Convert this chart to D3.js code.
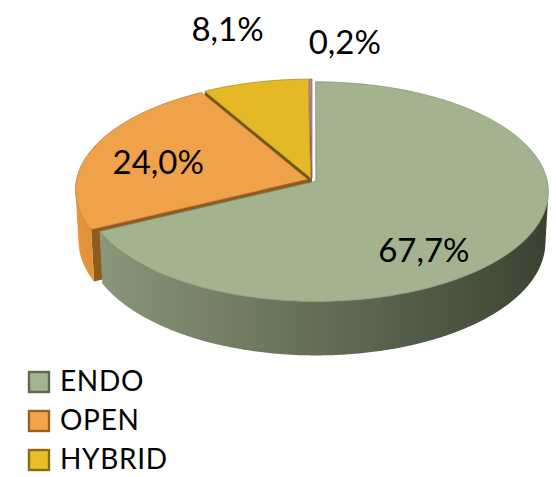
<!DOCTYPE html>
<html>
<head>
<meta charset="utf-8">
<script src="https://cdn.jsdelivr.net/npm/d3@7"></script>
<style>
  html, body { margin: 0; padding: 0; background: #ffffff; }
  svg { display: block; }
  text { font-family: Lato, "Open Sans", "DejaVu Sans", sans-serif; fill: #000; }
</style>
</head>
<body>
<svg id="chart" width="556" height="477"></svg>
<script>
// ---- data ----
const categories = ["ENDO", "OPEN", "HYBRID", "OTHER"];
const values = [67.7, 24.0, 8.1, 0.2];
const valueLabels = ["67,7%", "24,0%", "8,1%", "0,2%"];
const legendItems = ["ENDO", "OPEN", "HYBRID"];

// ---- colours ----
const topColors = ["#a3b38f", "#f0a24a", "#e5b926", "#b98a8f"];
const topEdge = ["#7f8f6c", "#b9722c", "#a7841a", "#8a5f64"];
const wallLight = ["#8f9c7f", "#e6963c", "#b2901c", "#9b6f74"];
const wallDark = ["#394030", "#8a5418", "#5f4e0e", "#5e4044"];
const radialWall = ["#7a866a", "#8e5c1e", "#6b5912", "#7a5458"];
const legendFill = ["#a4b391", "#f4a44c", "#e6be2c"];
const legendStroke = ["#5f6b4d", "#9a6020", "#8a6c10"];

// ---- 3D projection for a tilted disc seen in perspective ----
const sinE = 0.47, cosE = Math.sqrt(1 - sinE * sinE);
const D = 9.26, F = 2140;
const originX = 312, originY = 180;
const H = 0.25;          // disc thickness (radius = 1)
const explode = 0.02;    // radial offset of every slice

function camZ(X, Y, Z) { return -Y * sinE + Z * cosE + D; }
function project(X, Y, Z) {
  const yc = Y * cosE + Z * sinE;
  const zc = camZ(X, Y, Z);
  return [originX + F * X / zc, originY - F * yc / zc];
}
const camPos = [0, D * sinE, -D * cosE];
function faces(n, P) {
  return n[0] * (camPos[0] - P[0]) + n[1] * (camPos[1] - P[1]) + n[2] * (camPos[2] - P[2]) > 0;
}

const pie = d3.pie().sort(null).value(d => d).startAngle(0).endAngle(2 * Math.PI);
const arcs = pie(values);

const svg = d3.select("#chart");
const defs = svg.append("defs");
const line = d3.line();

// per-slice geometry in disc coordinates
const slices = arcs.map((a, i) => {
  const mid = (a.startAngle + a.endAngle) / 2;
  const ox = explode * Math.sin(mid), oz = explode * Math.cos(mid);
  const pt = (theta, r, Y) => [ox + r * Math.sin(theta), Y, oz + r * Math.cos(theta)];
  return { i, a, mid, ox, oz, pt };
});

// ---- side walls (sorted far to near) ----
const walls = [];
slices.forEach(s => {
  const { a, pt, i } = s;
  const span = a.endAngle - a.startAngle;
  const steps = Math.max(4, Math.ceil(span / (Math.PI / 360)));
  // visible part of the outer rim, as one band
  const vis = [];
  for (let k = 0; k <= steps; k++) {
    const t = a.startAngle + span * k / steps;
    if (faces([Math.sin(t), 0, Math.cos(t)], pt(t, 1, -H / 2))) vis.push(t);
  }
  if (vis.length > 1) {
    const topPts = vis.map(t => project(...pt(t, 1, 0)));
    const botPts = vis.map(t => project(...pt(t, 1, -H))).reverse();
    const tm = vis[Math.floor(vis.length / 2)];
    const gid = "wall-grad-" + i;
    const xs = topPts.map(p => p[0]);
    const x0 = d3.min(xs), x1 = d3.max(xs);
    const grad = defs.append("linearGradient").attr("id", gid)
      .attr("gradientUnits", "userSpaceOnUse")
      .attr("x1", x0).attr("x2", x1).attr("y1", 0).attr("y2", 0);
    const stops = vis.map((t, k) => ({
      off: x1 > x0 ? (topPts[k][0] - x0) / (x1 - x0) : 0,
      col: d3.interpolateRgb(wallLight[i], wallDark[i])((Math.sin(t) + 1) / 2)
    })).sort((p, q) => p.off - q.off);
    const every = Math.max(1, Math.floor(stops.length / 24));
    stops.filter((d, k) => k % every === 0 || k === stops.length - 1)
      .forEach(st => grad.append("stop").attr("offset", st.off).attr("stop-color", st.col));
    walls.push({
      d: line(topPts.concat(botPts)) + "Z",
      depth: camZ(...pt(tm, 1, -H / 2)),
      fill: `url(#${gid})`
    });
  }
  // radial faces at both cut edges
  [[a.startAngle, -1], [a.endAngle, 1]].forEach(([th, sgn]) => {
    const n = [sgn * Math.cos(th), 0, -sgn * Math.sin(th)];
    const P = pt(th, 0.5, -H / 2);
    if (!faces(n, P)) return;
    const q = [pt(th, 0, 0), pt(th, 1, 0), pt(th, 1, -H), pt(th, 0, -H)];
    walls.push({ d: line(q.map(p => project(...p))) + "Z", depth: camZ(...P), fill: radialWall[i] });
  });
});
walls.sort((p, q) => q.depth - p.depth);

svg.append("g").attr("class", "walls")
  .selectAll("path").data(walls).join("path")
  .attr("d", w => w.d)
  .attr("fill", w => w.fill);

// ---- top faces ----
svg.append("g").attr("class", "tops")
  .selectAll("path").data(slices).join("path")
  .attr("d", s => {
    const span = s.a.endAngle - s.a.startAngle;
    const steps = Math.max(2, Math.ceil(span / (Math.PI / 180)));
    const pts = [project(...s.pt(0, 0, 0))];
    for (let k = 0; k <= steps; k++) {
      pts.push(project(...s.pt(s.a.startAngle + span * k / steps, 1, 0)));
    }
    return line(pts) + "Z";
  })
  .attr("fill", s => topColors[s.i])
  .attr("stroke", s => topEdge[s.i])
  .attr("stroke-width", 0.7)
  .attr("stroke-linejoin", "round");

// ---- value labels (polar spot on the disc plane: radius, angle shift) ----
const labelSpot = [[0.734, 0.373], [0.68, -0.038], [1.65, 0.012], [1.45, 0.118]];
svg.append("g").attr("class", "labels")
  .selectAll("text").data(slices).join("text")
  .attr("x", s => project(...s.pt(s.mid + labelSpot[s.i][1], labelSpot[s.i][0], 0))[0])
  .attr("y", s => project(...s.pt(s.mid + labelSpot[s.i][1], labelSpot[s.i][0], 0))[1])
  .attr("text-anchor", "middle")
  .attr("dominant-baseline", "central")
  .attr("font-size", 33)
  .text(s => valueLabels[s.i]);

// ---- legend ----
const legend = svg.append("g").attr("class", "legend")
  .attr("transform", "translate(28,371)");
const rows = legend.selectAll("g").data(legendItems).join("g")
  .attr("transform", (d, i) => `translate(0,${i * 39})`);
rows.append("rect")
  .attr("x", 1).attr("y", 1).attr("width", 20).attr("height", 20)
  .attr("fill", (d, i) => legendFill[i])
  .attr("stroke", (d, i) => legendStroke[i])
  .attr("stroke-width", 2.4);
rows.append("text")
  .attr("x", 32).attr("y", 20)
  .attr("font-size", 28)
  .attr("letter-spacing", 0.7)
  .text(d => d);
</script>
</body>
</html>
